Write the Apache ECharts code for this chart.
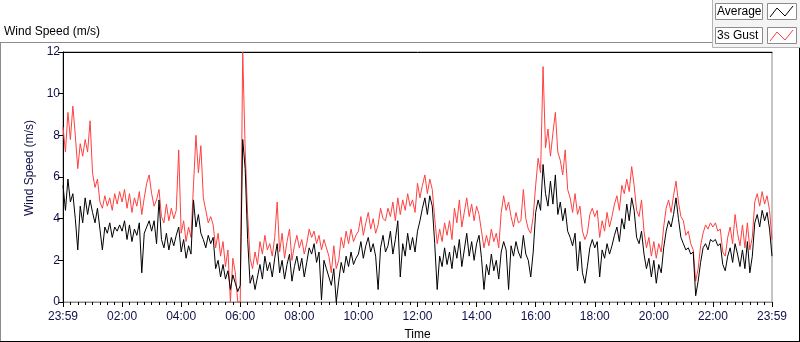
<!DOCTYPE html>
<html>
<head>
<meta charset="utf-8">
<script src="https://cdn.jsdelivr.net/npm/echarts@6/dist/echarts.min.js"></script>
<style>
html,body{margin:0;padding:0;background:#fff;}
#chart{width:800px;height:342px;}
</style>
</head>
<body>
<div id="chart"></div>
<script>
// 时间轴 (分钟, 23:59 起) 每 5 分钟一个点
var stepMin = 5;
var xTickLabels = ['23:59', '02:00', '04:00', '06:00', '08:00', '10:00', '12:00', '14:00', '16:00', '18:00', '20:00', '22:00', '23:59'];
var yTicks = [0, 2, 4, 6, 8, 10, 12];

// Average (m/s), 每行一小时
var avgSpeed = [
	5.6,4.4,5.9,4.8,5.2,4.0,2.5,4.6,3.8,5.0,4.2,4.9,
	4.3,3.8,4.5,3.5,2.5,3.6,3.3,3.8,3.1,3.6,3.4,3.7,
	3.4,3.9,3.0,3.7,2.9,3.5,3.2,3.8,1.4,3.3,3.6,3.9,
	3.4,3.9,2.8,4.9,3.0,2.6,3.3,2.5,3.1,2.7,3.2,3.6,
	2.4,3.0,2.1,2.7,2.3,4.9,3.6,4.2,3.3,3.0,2.6,3.2,
	2.8,3.1,1.6,2.0,1.2,1.8,1.1,1.5,0.6,1.3,0.9,0.5,
	0.8,7.8,6.4,3.0,0.9,1.3,0.6,1.2,1.8,1.1,2.2,1.5,
	1.9,1.2,2.1,2.8,1.4,2.0,1.1,1.8,2.3,1.0,1.7,2.2,
	1.5,2.1,1.2,1.9,2.6,2.3,2.8,1.9,2.4,0.1,2.0,1.6,
	1.2,0.8,1.6,0.0,1.0,1.9,1.4,2.2,1.7,2.4,1.8,2.1,
	2.3,2.9,2.1,2.7,3.1,2.4,2.8,2.2,0.6,2.6,3.2,2.4,
	2.7,3.4,2.3,3.0,3.9,1.2,2.8,2.2,3.3,2.5,3.1,2.4,
	3.4,3.9,4.5,5.0,4.2,5.1,4.6,2.8,0.6,2.2,1.7,2.6,
	1.8,2.4,1.6,2.7,2.1,3.0,1.7,2.5,3.3,2.2,2.9,2.0,
	2.8,3.2,2.1,0.6,1.8,1.3,2.3,1.5,2.0,1.1,2.4,2.9,
	2.5,0.6,2.7,2.2,2.9,2.4,2.1,3.2,2.3,2.0,1.2,2.4,
	4.3,4.9,4.4,6.6,5.2,4.6,5.8,4.7,6.1,4.2,4.8,3.9,
	4.5,3.4,3.1,2.7,3.3,1.5,2.9,1.4,0.9,1.7,2.6,3.0,
	2.6,2.9,1.2,2.5,2.1,2.8,2.3,2.7,3.2,3.6,2.9,4.0,
	3.5,4.7,3.9,5.0,4.4,3.1,2.8,3.4,2.3,1.6,2.1,1.2,
	2.0,0.9,1.8,1.4,2.6,3.4,3.9,3.6,4.2,5.0,4.0,3.1,
	2.8,2.5,2.6,2.3,2.4,0.3,1.0,1.9,2.6,2.8,2.5,3.0,
	2.9,3.0,2.7,2.8,1.8,1.5,2.2,2.6,1.9,2.8,2.3,1.7,
	2.5,1.6,2.9,1.4,2.2,3.8,4.2,3.6,4.4,3.9,4.3,3.5,
	2.2
];

// 3s Gust (m/s)
var gustSpeed = [
	8.4,7.2,9.1,7.8,9.4,8.0,6.4,7.6,7.0,7.8,7.2,8.7,
	6.2,5.5,5.9,4.8,4.5,5.1,4.6,5.0,4.4,5.2,4.7,5.3,
	4.8,5.4,4.5,5.2,4.3,5.0,4.6,5.3,4.2,5.0,5.7,6.1,
	5.2,4.6,4.9,5.4,4.1,3.8,4.7,3.9,4.5,4.0,4.4,7.3,
	3.3,3.9,2.9,3.6,3.1,5.6,8.0,6.2,7.5,5.0,4.4,3.8,
	4.1,3.7,2.6,3.3,2.2,2.9,1.7,2.5,0.0,2.1,1.4,0.0,
	0.0,12.0,7.3,4.2,2.1,1.6,2.4,1.8,2.9,2.3,3.2,2.5,
	2.8,2.2,3.1,4.8,2.4,3.3,2.1,2.9,3.5,2.0,2.7,3.2,
	2.6,3.0,2.3,2.8,3.5,3.1,3.4,2.8,3.2,2.5,3.0,2.6,
	2.2,1.4,2.7,1.6,2.0,3.1,2.6,3.4,2.8,3.5,2.9,3.2,
	3.4,4.1,3.2,3.8,4.3,3.5,4.0,3.3,3.7,4.5,4.0,3.9,
	4.5,4.1,4.8,3.9,5.0,4.2,4.9,4.4,5.2,4.6,4.9,4.3,
	5.7,5.0,5.6,6.1,5.2,5.9,5.4,4.0,2.8,3.5,2.9,3.8,
	3.2,3.9,3.0,4.5,3.8,4.9,3.6,4.3,5.0,4.1,4.7,3.9,
	4.6,4.2,3.4,2.6,3.2,2.7,3.5,2.9,3.3,2.6,4.3,5.1,
	4.4,4.8,4.1,3.6,4.3,3.8,3.9,5.4,4.0,3.5,3.3,4.1,
	5.6,6.9,6.2,11.3,7.4,8.3,7.0,8.1,9.1,7.2,6.8,6.1,
	7.3,5.4,5.0,4.3,5.2,4.2,4.6,3.4,3.0,3.3,4.2,4.5,
	4.1,4.4,3.1,3.9,3.4,4.3,3.6,4.1,4.7,5.1,4.4,5.6,
	5.2,5.9,5.3,6.5,5.6,4.4,4.1,4.9,3.4,2.6,3.1,2.2,
	2.9,2.1,2.8,2.4,3.6,4.5,4.9,4.3,5.1,5.8,4.8,4.1,
	3.9,3.2,3.4,2.8,2.5,1.0,1.6,2.7,3.3,3.7,3.5,3.8,
	3.6,3.8,3.4,3.5,2.4,2.2,3.1,3.6,2.8,4.2,3.3,2.7,
	3.7,2.6,3.8,2.5,3.1,4.8,5.2,4.6,5.3,4.7,5.1,4.4,
	3.0
];

function toPairs(arr){
	var out=[];
	for(let i=0;i<arr.length;i++){
		out.push([i*stepMin,arr[i]]);
	}
	return out;
}

var labelFont = 'Liberation Sans, Arial, sans-serif';
var frameGray = '#8c8c8c';

option = {
	animation: false,
	backgroundColor: '#fff',
	title: {
		text: 'Wind Speed (m/s)',
		left: -1,
		top: 21,
		textStyle: {
			fontFamily: labelFont,
			fontSize: 12,
			fontWeight: 'normal',
			color: '#000'
		}
	},
	grid: {
		left: 63,
		right: 28,
		top: 52,
		bottom: 40,
		outerBoundsMode: 'none',
		show: true,
		borderColor: frameGray,
		borderWidth: 1,
		backgroundColor: '#fff'
	},
	xAxis: [{
		type: 'value',
		min: 0,
		max: 1440,
		interval: 120,
		name: 'Time',
		nameLocation: 'middle',
		nameGap: 27,
		nameTextStyle: {
			fontFamily: labelFont,
			fontSize: 12,
			color: '#000'
		},
		axisLine: {
			show: true,
			lineStyle: {
				color: frameGray
			}
		},
		axisTick: {
			show: true,
			length: 5,
			lineStyle: {
				color: '#000'
			}
		},
		minorTick: {
			show: true,
			splitNumber: 8,
			length: 3,
			lineStyle: {
				color: '#000'
			}
		},
		axisLabel: {
			margin: 9,
			fontFamily: labelFont,
			fontSize: 12,
			color: '#10104a',
			showMinLabel: true,
			showMaxLabel: true,
			formatter: function(v){
				return xTickLabels[Math.round(v/120)];
			}
		},
		splitLine: {
			show: false
		}
	}, {
		type: 'value',
		min: 0,
		max: 1440,
		position: 'top',
		axisLine: {
			show: true,
			lineStyle: {
				color: '#000'
			}
		},
		axisTick: {
			show: false
		},
		axisLabel: {
			show: false
		},
		splitLine: {
			show: false
		}
	}],
	yAxis: {
		type: 'value',
		min: yTicks[0],
		max: yTicks[yTicks.length-1],
		interval: 2,
		name: 'Wind Speed (m/s)',
		nameLocation: 'middle',
		nameGap: 24,
		nameTextStyle: {
			fontFamily: labelFont,
			fontSize: 12,
			color: '#10104a',
			padding: [0, 0, 0, 18]
		},
		axisLine: {
			show: true,
			lineStyle: {
				color: '#000'
			}
		},
		axisTick: {
			show: true,
			length: 5,
			lineStyle: {
				color: '#000'
			}
		},
		axisLabel: {
			margin: 3,
			fontFamily: labelFont,
			fontSize: 12,
			color: '#10104a'
		},
		splitLine: {
			show: false
		}
	},
	series: [{
		name: '3s Gust',
		type: 'line',
		xAxisIndex: 0,
		data: toPairs(gustSpeed),
		showSymbol: false,
		lineStyle: {
			color: '#ff4040',
			width: 1
		},
		z: 2
	}, {
		name: 'Average',
		type: 'line',
		xAxisIndex: 0,
		data: toPairs(avgSpeed),
		showSymbol: false,
		lineStyle: {
			color: '#000',
			width: 1
		},
		z: 3
	}],
	graphic: [
		// 外框
		{type: 'line', silent: true, shape: {x1: 0, y1: 42.5, x2: 712, y2: 42.5}, style: {stroke: frameGray, lineWidth: 1}},
		{type: 'line', silent: true, shape: {x1: 0.5, y1: 42, x2: 0.5, y2: 342}, style: {stroke: frameGray, lineWidth: 1}},
		{type: 'line', silent: true, shape: {x1: 0, y1: 341.5, x2: 800, y2: 341.5}, style: {stroke: '#000', lineWidth: 1}},
		{type: 'line', silent: true, shape: {x1: 799.5, y1: 48, x2: 799.5, y2: 342}, style: {stroke: '#000', lineWidth: 1}},
		// 图例
		{type: 'rect', silent: true, shape: {x: 712.5, y: -1, width: 90, height: 48.5}, style: {fill: '#f4f4f4', stroke: '#b4b4b4', lineWidth: 1}},
		{type: 'rect', silent: true, shape: {x: 715.5, y: 3.5, width: 47, height: 16}, style: {fill: '#fff', stroke: frameGray, lineWidth: 1}},
		{type: 'text', silent: true, x: 717, y: 12, style: {text: 'Average', fill: '#000', font: '12px ' + labelFont, verticalAlign: 'middle'}},
		{type: 'rect', silent: true, shape: {x: 767.5, y: 3.5, width: 29, height: 16}, style: {fill: '#fff', stroke: frameGray, lineWidth: 1}},
		{type: 'polyline', silent: true, shape: {points: [[770, 17], [777, 8], [785, 16], [793, 6]]}, style: {stroke: '#000', lineWidth: 1, fill: null}},
		{type: 'rect', silent: true, shape: {x: 715.5, y: 27.5, width: 47, height: 16}, style: {fill: '#fff', stroke: frameGray, lineWidth: 1}},
		{type: 'text', silent: true, x: 717, y: 36, style: {text: '3s Gust', fill: '#000', font: '12px ' + labelFont, verticalAlign: 'middle'}},
		{type: 'rect', silent: true, shape: {x: 767.5, y: 27.5, width: 29, height: 16}, style: {fill: '#fff', stroke: frameGray, lineWidth: 1}},
		{type: 'polyline', silent: true, shape: {points: [[770, 41], [777, 32], [785, 40], [793, 30]]}, style: {stroke: '#ff4040', lineWidth: 1, fill: null}}
	]
};
var myChart = echarts.init(document.getElementById('chart'));
myChart.setOption(option);
</script>
</body>
</html>
